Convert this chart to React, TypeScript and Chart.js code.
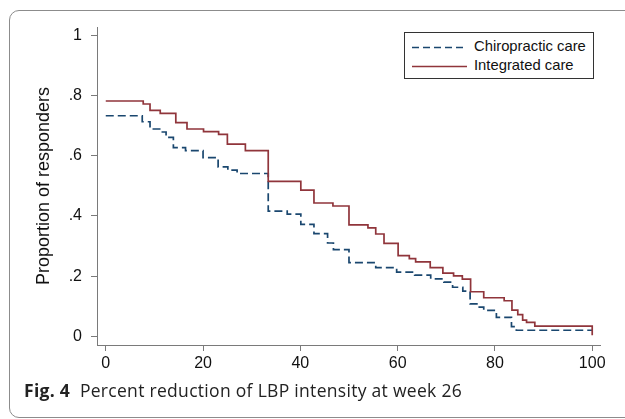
import React, { useEffect, useRef } from "react";
import { Chart, registerables } from "chart.js";

Chart.register(...registerables);

// Chiropractic care (dashed)
const chiroX = [0, 7.5, 9.1, 11.3, 12.4, 13.9, 16.4, 20, 23.1, 25.1, 27, 33.4, 37.3, 40.1, 42.8, 45.6, 46.8, 50, 55.5, 59.8, 63.5, 66.8, 69.5, 71.3, 73.4, 74.9, 76.5, 77.7, 80.3, 83.4, 84.4, 100];
const chiroY = [0.733, 0.713, 0.689, 0.679, 0.661, 0.627, 0.617, 0.594, 0.563, 0.552, 0.541, 0.416, 0.406, 0.372, 0.341, 0.31, 0.288, 0.245, 0.228, 0.213, 0.203, 0.191, 0.18, 0.163, 0.15, 0.108, 0.097, 0.086, 0.063, 0.032, 0.02, 0.02];

// Integrated care (solid)
const integX = [0, 7.7, 9.1, 11.2, 14.4, 16.7, 20.1, 23.2, 25, 28.7, 33.4, 40.1, 42.8, 46.7, 50, 53.9, 55.5, 57.2, 60.1, 62.4, 63.7, 66.7, 69.3, 71.5, 73.3, 75, 77.7, 81.9, 83.5, 84.7, 85.7, 86.5, 88.2, 100];
const integY = [0.782, 0.772, 0.751, 0.741, 0.71, 0.689, 0.68, 0.671, 0.639, 0.617, 0.515, 0.486, 0.443, 0.433, 0.37, 0.36, 0.34, 0.309, 0.268, 0.258, 0.247, 0.228, 0.21, 0.201, 0.19, 0.148, 0.128, 0.118, 0.087, 0.072, 0.054, 0.046, 0.034, 0.003];

const xTicks = [0, 20, 40, 60, 80, 100];
const xTickLabels = ["0", "20", "40", "60", "80", "100"];
const yTicks = [0, 0.2, 0.4, 0.6, 0.8, 1];
const yTickLabels = ["0", ".2", ".4", ".6", ".8", "1"];

const seriesNames = ["Chiropractic care", "Integrated care"];
const yTitle = "Proportion of responders";
const captionBold = "Fig. 4";
const captionText = "Percent reduction of LBP intensity at week 26";

const BLUE = "#1a476f";
const RED = "#90353b";
const AXIS = "#7a7a7a";
const FONT = "'Liberation Sans', Arial, sans-serif";

export default function App() {
  const canvasRef = useRef<HTMLCanvasElement | null>(null);

  useEffect(() => {
    const canvas = canvasRef.current;
    if (!canvas) return;
    const chart = new Chart(canvas, {
      type: "line",
      data: {
        datasets: [
          {
            label: seriesNames[0],
            data: chiroX.map((x, i) => ({ x, y: chiroY[i] })),
            borderColor: BLUE,
            borderWidth: 1.7,
            borderDash: [8, 4],
            pointRadius: 0,
            stepped: "before",
            fill: false,
            order: 2,
          },
          {
            label: seriesNames[1],
            data: integX.map((x, i) => ({ x, y: integY[i] })),
            borderColor: RED,
            borderWidth: 1.7,
            pointRadius: 0,
            stepped: "before",
            fill: false,
            order: 1,
          },
        ],
      },
      options: {
        animation: false,
        responsive: false,
        maintainAspectRatio: false,
        devicePixelRatio: 1,
        layout: { padding: { left: 0, top: 27, right: 25, bottom: 29 } },
        plugins: { legend: { display: false }, tooltip: { enabled: false } },
        scales: {
          x: {
            type: "linear",
            min: -1.8,
            max: 101.6,
            afterBuildTicks: (s: any) => {
              s.ticks = xTicks.map((v) => ({ value: v }));
            },
            afterFit: (s: any) => {
              s.height = 45;
            },
            ticks: {
              autoSkip: false,
              maxRotation: 0,
              padding: 3,
              color: "#111",
              font: { family: FONT, size: 16 },
              callback: (v: any) => {
                const i = xTicks.indexOf(Number(v));
                return i >= 0 ? xTickLabels[i] : "";
              },
            },
            grid: { display: true, drawOnChartArea: false, drawTicks: true, tickLength: 6, color: AXIS, lineWidth: 1 },
            border: { display: true, color: AXIS, width: 1 },
          },
          y: {
            type: "linear",
            min: -0.029,
            max: 1.028,
            afterBuildTicks: (s: any) => {
              s.ticks = yTicks.map((v) => ({ value: v }));
            },
            afterFit: (s: any) => {
              s.width = 97;
            },
            ticks: {
              autoSkip: false,
              padding: 9,
              color: "#111",
              font: { family: FONT, size: 16 },
              callback: (v: any) => {
                const i = yTicks.findIndex((t) => Math.abs(t - Number(v)) < 1e-6);
                return i >= 0 ? yTickLabels[i] : "";
              },
            },
            grid: { display: true, drawOnChartArea: false, drawTicks: true, tickLength: 6, color: AXIS, lineWidth: 1 },
            border: { display: true, color: AXIS, width: 1 },
            title: {
              display: true,
              text: yTitle,
              color: "#111",
              font: { family: FONT, size: 18 },
              padding: { top: 33, bottom: 0 },
            },
          },
        },
      },
    });
    return () => chart.destroy();
  }, []);

  return (
    <div style={{ position: "fixed", left: 0, top: 0, width: 625, height: 419, background: "#fff", overflow: "hidden" }}>
      <div
        style={{
          position: "absolute",
          left: 9,
          top: 10,
          width: 660,
          height: 408,
          border: "1px solid #8c8c8c",
          borderRadius: 10,
          boxSizing: "border-box",
        }}
      />
      <canvas ref={canvasRef} width={625} height={419} style={{ position: "absolute", left: 0, top: 0, width: 625, height: 419 }} />
      <div
        style={{
          position: "absolute",
          left: 404,
          top: 32,
          width: 190,
          height: 47,
          border: "1px solid #333",
          boxSizing: "border-box",
          background: "#fff",
          fontFamily: FONT,
          fontSize: 14.8,
          color: "#111",
        }}
      >
        <svg width={60} height={45} style={{ position: "absolute", left: 5, top: 0 }}>
          <line x1={2} y1={14.5} x2={57} y2={14.5} stroke={BLUE} strokeWidth={1.5} strokeDasharray="7 4" />
          <line x1={2} y1={33.5} x2={57} y2={33.5} stroke={RED} strokeWidth={1.5} />
        </svg>
        <div style={{ position: "absolute", left: 69, top: 5, lineHeight: "17px", whiteSpace: "nowrap" }}>{seriesNames[0]}</div>
        <div style={{ position: "absolute", left: 69, top: 24, lineHeight: "17px", whiteSpace: "nowrap" }}>{seriesNames[1]}</div>
      </div>
      <div
        style={{
          position: "absolute",
          left: 24,
          top: 378,
          fontFamily: "'Open Sans', 'Noto Sans', sans-serif",
          fontSize: 17.5,
          letterSpacing: 0.3,
          color: "#222",
          whiteSpace: "nowrap",
          lineHeight: "24px",
        }}
      >
        <span style={{ fontWeight: 700 }}>{captionBold}</span>
        <span>{"\u00a0\u00a0" + captionText}</span>
      </div>
    </div>
  );
}
